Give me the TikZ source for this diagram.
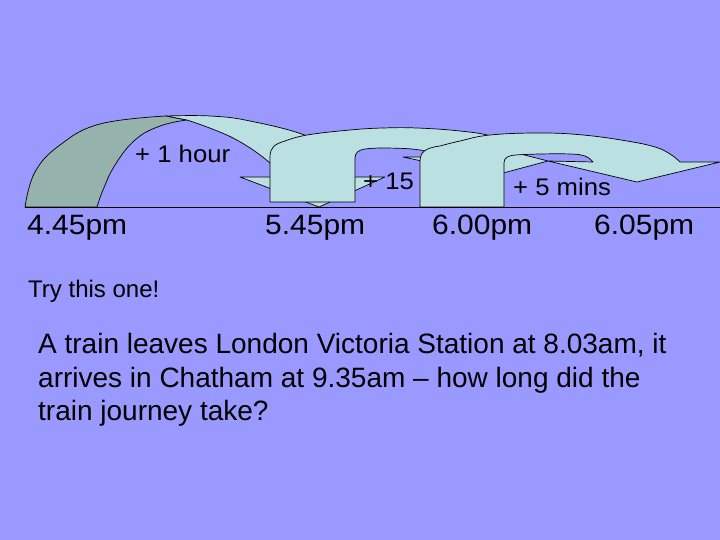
\documentclass[tikz,border=0pt]{standalone}
\usepackage{graphicx}
\usepackage{fontspec}
\setmainfont{Liberation Sans}
\definecolor{bgblue}{RGB}{153,153,255}
\definecolor{lightcyan}{RGB}{187,224,226}
\definecolor{darkteal}{RGB}{150,178,172}
\newcommand\lblwide[1]{\scalebox{1.07}[1]{#1}}
\begin{document}
\begin{tikzpicture}[x=1pt,y=-1pt,
  shapeline/.style={draw=black,line width=0.7pt,line join=round},
  timelbl/.style={anchor=base west,inner sep=0pt,font=\fontsize{28}{30}\selectfont},
  steplbl/.style={anchor=base west,inner sep=0pt,font=\fontsize{24}{26}\selectfont},
  bodytxt/.style={anchor=base west,inner sep=0pt,font=\fontsize{28}{33}\selectfont}]
\useasboundingbox (0,0) rectangle (720,540);
\fill[bgblue] (0,0) rectangle (720,540);

% shape 1 : back (dark) part of curved arrow
\path[shapeline,fill=darkteal]
  plot[smooth,tension=0.7] coordinates {(25,207) (35,172) (60,145) (100,124) (166,116)}
  -- (187,120)
  -- plot[smooth,tension=0.7] coordinates {(187,120) (160,126) (135,140) (115,165) (103,190) (97,207)}
  -- cycle;
% shape 1 : front (light) part with arrowhead
\path[shapeline,fill=lightcyan]
  plot[smooth,tension=0.7] coordinates {(166,116) (210,116) (250,121) (307,136) (335,155) (345,177)}
  -- (385,177) -- (319,207) -- (240,177) -- (278,177)
  -- plot[smooth,tension=0.7] coordinates {(278,177) (270,163) (233,138) (187,120)}
  -- cycle;

% shape 2
\path[shapeline,fill=lightcyan]
  (270,202) -- (270,157) .. controls (270,147) and (275,144) .. (285,141)
  -- plot[smooth,tension=0.7] coordinates {(285,141) (307,135) (350,130) (383,128) (417,128) (460,131) (490,136) (500,145) (505,150)}
  -- (548,161) -- (492,176) -- (403,157) -- (440,157)
  -- plot[smooth,tension=0.7] coordinates {(440,157) (420,150) (385,148) (365,149)}
  .. controls (358,150) and (355,153) .. (355,158)
  -- (355,202) -- cycle;

% shape 3
\path[shapeline,fill=lightcyan]
  (420,207) -- (420,162) .. controls (420,152) and (425,148) .. (440,146)
  -- plot[smooth,tension=0.7] coordinates {(440,146) (460,141) (490,135) (540,133) (583,135) (627,141) (655,147) (670,154) (680,162)}
  -- (720,162) -- (637,182) -- (548,161) -- (593,162)
  -- plot[smooth,tension=0.7] coordinates {(593,162) (585,156) (570,154) (540,154) (515,155)}
  .. controls (507,156) and (504,158) .. (504,163)
  -- (504,207) -- cycle;

% time line
\coordinate (lineL) at (25,207);
\coordinate (lineR) at (720,207);
\draw[line width=0.8pt] (lineL) -- (lineR);

% labels
\node[steplbl] (hour) at (135,163) {\lblwide{+ 1 hour}};
\node[steplbl] (fifteen) at (363,190) {\lblwide{+ 15}};
\node[steplbl] (fivemins) at (513,196) {\lblwide{+ 5 mins}};
\node[timelbl] (t1) at (27,234) {\lblwide{4.45pm}};
\node[timelbl] (t2) at (265,234) {\lblwide{5.45pm}};
\node[timelbl] (t3) at (432,234) {\lblwide{6.00pm}};
\node[timelbl] (t4) at (594,234) {\lblwide{6.05pm}};
\node[steplbl] (try) at (28,297) {Try this one!};
\node[bodytxt] (q1) at (38,353) {A train leaves London Victoria Station at 8.03am, it};
\node[bodytxt] (q2) at (38,387) {arrives in Chatham at 9.35am – how long did the};
\node[bodytxt] (q3) at (38,420) {train journey take?};
\end{tikzpicture}
\end{document}
